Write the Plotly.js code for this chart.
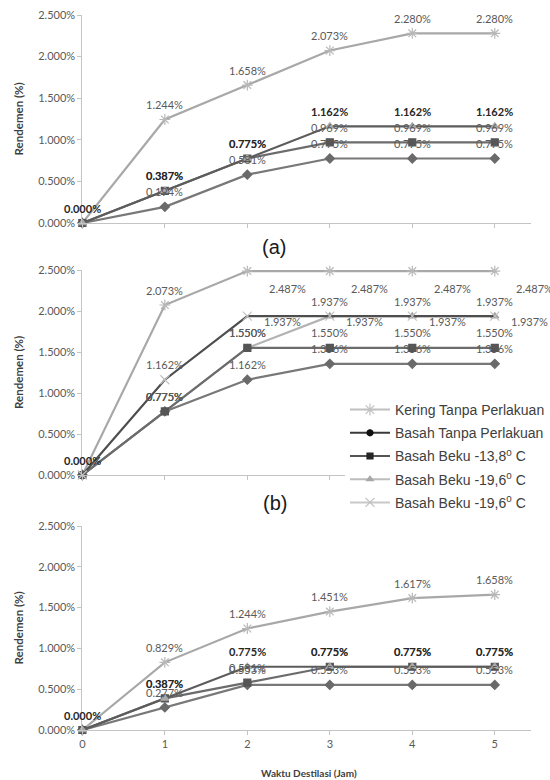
<!DOCTYPE html>
<html><head><meta charset="utf-8">
<script src="https://cdn.plot.ly/plotly-3.0.1.min.js"></script>
<style>html,body{margin:0;padding:0;background:#fff}</style>
</head><body><div id="chart" style="width:550px;height:780px"></div>
<script>
// ---------- DATA (values in %) ----------
const hours = [0, 1, 2, 3, 4, 5];
const xTickLabels = ['0', '1', '2', '3', '4', '5'];
const yTickVals = [0, 0.5, 1.0, 1.5, 2.0, 2.5];
const yTickLabels = ['0.000%', '0.500%', '1.000%', '1.500%', '2.000%', '2.500%'];
const legendNames = ['Kering Tanpa Perlakuan', 'Basah Tanpa Perlakuan',
  'Basah Beku -13,8<sup>0</sup> C', 'Basah Beku -19,6<sup>0</sup> C', 'Basah Beku -19,6<sup>0</sup> C'];
const panelTags = ['(a)', '(b)'];
const xTitle = 'Waktu Destilasi (Jam)';
const yTitle = 'Rendemen (%)';

// panel (a)
const aTop     = [0, 1.244, 1.658, 2.073, 2.280, 2.280];
const aBold    = [0, 0.387, 0.775, 1.162, 1.162, 1.162];
const aSquare  = [0, 0.387, 0.775, 0.969, 0.969, 0.969];
const aDiamond = [0, 0.194, 0.581, 0.775, 0.775, 0.775];
// panel (b)
const bTop      = [0, 2.073, 2.487, 2.487, 2.487, 2.487];
const bDark     = [0, 1.162, 1.937, 1.937, 1.937, 1.937];
const bTriangle = [0, 0.775, 1.550, 1.937, 1.937, 1.937];
const bSquare   = [0, 0.775, 1.550, 1.550, 1.550, 1.550];
const bDiamond  = [0, 0.775, 1.162, 1.356, 1.356, 1.356];
// panel (c)
const cTop     = [0, 0.829, 1.244, 1.451, 1.617, 1.658];
const cBold    = [0, 0.387, 0.775, 0.775, 0.775, 0.775];
const cSquare  = [0, 0.387, 0.581, 0.775, 0.775, 0.775];
const cDiamond = [0, 0.277, 0.553, 0.553, 0.553, 0.553];

// ---------- STYLES ----------
const ST = {
  top:      {line: '#a8a8a8', mcol: '#b8b8b8', sym: 'asterisk-open', size: 9},
  bold:     {line: '#5c5c5c', mcol: '#a9a9a9', sym: 'triangle-up', size: 7},
  dark:     {line: '#4e4e4e', mcol: '#c2c2c2', sym: 'x-thin-open', size: 9},
  square:   {line: '#6c6c6c', mcol: '#555555', sym: 'square', size: 7},
  diamond:  {line: '#787878', mcol: '#6a6a6a', sym: 'diamond', size: 7},
  triangle: {line: '#b3b3b3', mcol: '#a3a3a3', sym: 'triangle-up', size: 7}
};

const panels = [
  {ax: '', series: [
    {v: aTop, s: 'top'}, {v: aDiamond, s: 'diamond'}, {v: aSquare, s: 'square'},
    {v: aBold, s: 'bold', bold: true, zero: true}]},
  {ax: '2', series: [
    {v: bTop, s: 'top', rightFrom: 2, rx: 40, ry: -17}, {v: bTriangle, s: 'triangle'},
    {v: bDiamond, s: 'diamond'}, {v: bSquare, s: 'square', zero: true},
    {v: bDark, s: 'dark', rightFrom: 2, rx: 35, ry: -5}]},
  {ax: '3', series: [
    {v: cTop, s: 'top'}, {v: cDiamond, s: 'diamond'}, {v: cSquare, s: 'square'},
    {v: cBold, s: 'bold', bold: true, zero: true}]}
];

const W = 550, H = 780;
const xDom = [85 / W, 548 / W];
const yDomPx = [[15, 223], [270, 475], [526, 730]];
const fy = px => 1 - px / H;

const traces = [];
const annotations = [];
const layout = {
  width: W, height: H,
  margin: {l: 0, r: 0, t: 0, b: 0},
  paper_bgcolor: '#ffffff', plot_bgcolor: 'rgba(0,0,0,0)',
  font: {family: 'Lato, sans-serif', size: 11, color: '#595959'},
  showlegend: true,
  legend: {
    x: 356 / W, xanchor: 'left', y: fy(394), yanchor: 'top',
    bgcolor: '#ffffff', borderwidth: 0, itemwidth: 40, tracegroupgap: 2,
    font: {family: 'Liberation Sans, Arial, sans-serif', size: 14, color: '#404040'}
  },
  annotations: annotations
};

panels.forEach((p, pi) => {
  const xa = 'xaxis' + p.ax, ya = 'yaxis' + p.ax;
  layout[xa] = {
    domain: xDom, range: [0, 5.44], anchor: 'y' + p.ax,
    tickvals: hours, ticktext: xTickLabels, showticklabels: pi === 2,
    showline: true, linecolor: '#c4c4c4', linewidth: 1,
    ticks: 'outside', ticklen: 4, tickcolor: '#c4c4c4',
    showgrid: false, zeroline: false, fixedrange: true,
    tickfont: {family: 'Lato, sans-serif', size: 11, color: '#595959'}
  };
  layout[ya] = {
    domain: [fy(yDomPx[pi][1]), fy(yDomPx[pi][0])], range: [0, 2.5], anchor: 'x' + p.ax,
    tickvals: yTickVals, ticktext: yTickLabels,
    showline: true, linecolor: '#c4c4c4', linewidth: 1,
    ticks: 'outside', ticklen: 4, tickcolor: '#c4c4c4',
    showgrid: false, zeroline: false, fixedrange: true,
    tickfont: {family: 'Lato, sans-serif', size: 11, color: '#595959'}
  };
  p.series.forEach(sr => {
    const st = ST[sr.s];
    traces.push({
      x: hours, y: sr.v, xaxis: 'x' + p.ax, yaxis: 'y' + p.ax,
      type: 'scatter', mode: 'lines+markers', showlegend: false, hoverinfo: 'skip',
      cliponaxis: false,
      line: {color: st.line, width: 2.2},
      marker: {symbol: st.sym, size: st.size, color: st.mcol, line: {color: st.mcol, width: 1.2}}
    });
    sr.v.forEach((val, i) => {
      if (i === 0 && !sr.zero) return;
      const right = sr.rightFrom !== undefined && i >= sr.rightFrom;
      const isBold = sr.bold || i === 0;
      annotations.push({
        x: hours[i], y: val, xref: 'x' + p.ax, yref: 'y' + p.ax,
        text: val.toFixed(3) + '%', showarrow: false,
        xanchor: 'center', yanchor: 'middle',
        xshift: right ? sr.rx : 0, yshift: right ? sr.ry : 15,
        font: {family: 'Lato, sans-serif', size: 11,
          color: isBold ? '#262626' : '#5a5a5a', weight: isBold ? 'bold' : 'normal'}
      });
    });
  });
  // y-axis title
  annotations.push({
    x: 19 / W, y: fy((yDomPx[pi][0] + yDomPx[pi][1]) / 2), xref: 'paper', yref: 'paper',
    text: '<b>' + yTitle + '</b>', textangle: -90, showarrow: false,
    xanchor: 'center', yanchor: 'middle',
    font: {family: 'Lato, sans-serif', size: 11.5, color: '#404040'}
  });
});

// panel tags
[[283, 247], [284, 503]].forEach((pos, i) => {
  annotations.push({
    x: pos[0] / W, y: fy(pos[1]), xref: 'paper', yref: 'paper',
    text: panelTags[i], showarrow: false, xanchor: 'center', yanchor: 'middle',
    font: {family: 'Liberation Sans, Arial, sans-serif', size: 20, color: '#1a1a1a'}
  });
});
// x-axis title
annotations.push({
  x: 319 / W, y: fy(773), xref: 'paper', yref: 'paper',
  text: '<b>' + xTitle + '</b>', showarrow: false, xanchor: 'center', yanchor: 'middle',
  font: {family: 'Lato, sans-serif', size: 10, color: '#404040'}
});

// legend entries (legend-only, no data marks)
const legendStyles = [
  {line: '#c0c0c0', mcol: '#c0c0c0', sym: 'asterisk-open', size: 10},
  {line: '#3a3a3a', mcol: '#111111', sym: 'circle', size: 6},
  {line: '#555555', mcol: '#262626', sym: 'square', size: 6},
  {line: '#bdbdbd', mcol: '#a8a8a8', sym: 'triangle-up', size: 6},
  {line: '#c8c8c8', mcol: '#c0c0c0', sym: 'x-thin-open', size: 9}
];
legendNames.forEach((nm, i) => {
  const st = legendStyles[i];
  traces.push({
    x: [null], y: [null], xaxis: 'x2', yaxis: 'y2', type: 'scatter', mode: 'lines+markers',
    name: nm, legendgroup: 'g' + i, showlegend: true, hoverinfo: 'skip',
    line: {color: st.line, width: 2},
    marker: {symbol: st.sym, size: st.size, color: st.mcol, line: {color: st.mcol, width: 1.2}}
  });
});

Plotly.newPlot('chart', traces, layout, {staticPlot: true, displayModeBar: false});
</script>
</body></html>
